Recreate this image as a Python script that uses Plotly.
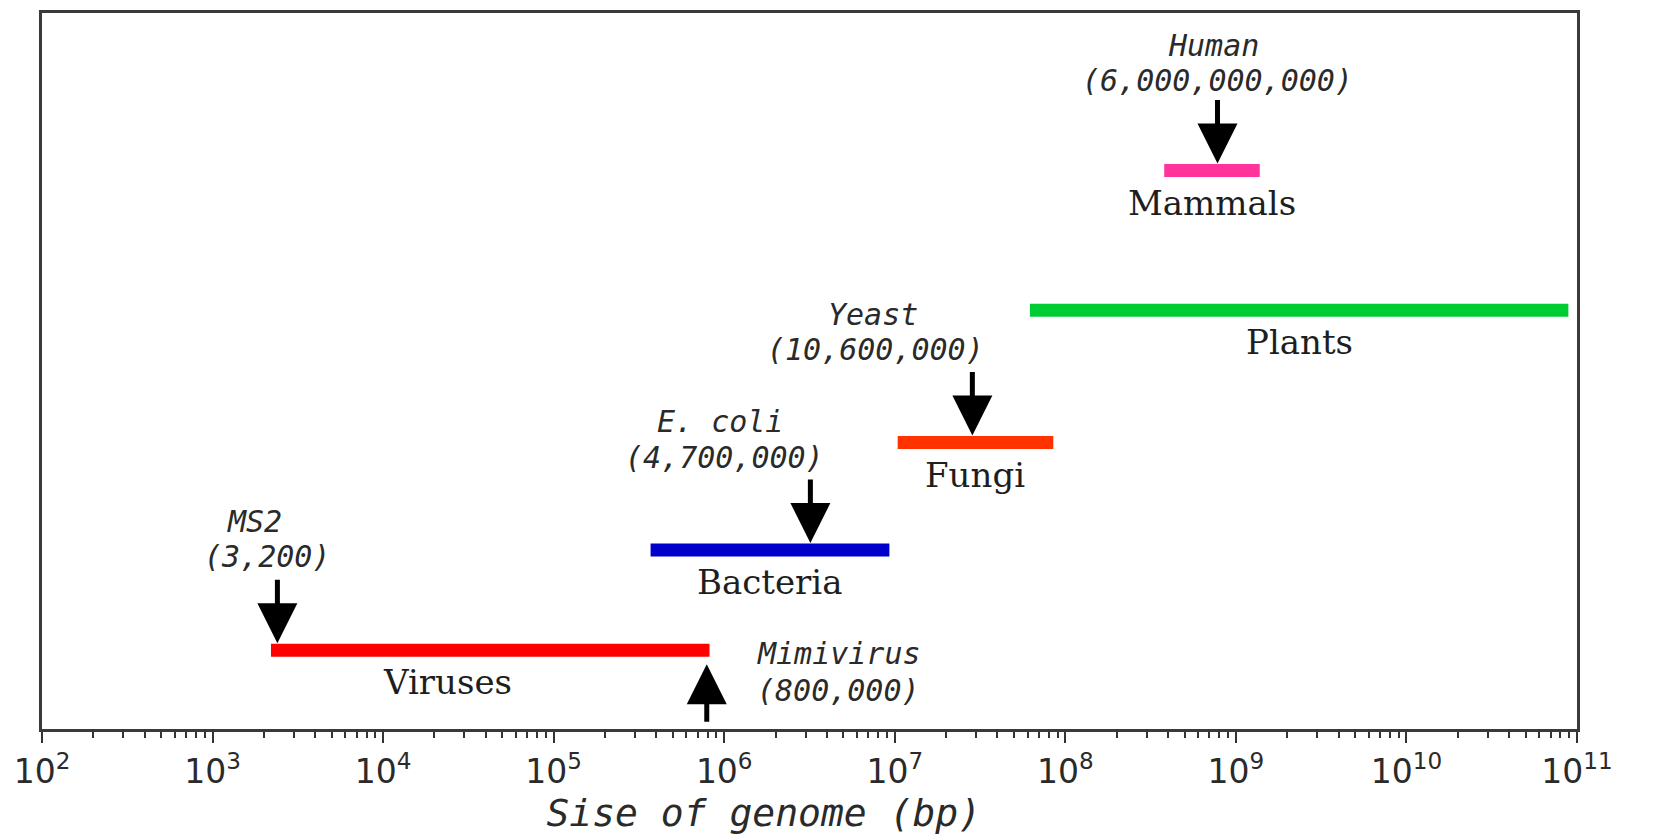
import numpy as np
import plotly.graph_objects as go

# ---- data ----
groups = ["Viruses", "Bacteria", "Fungi", "Plants", "Mammals"]
group_min_bp = [2.2e3, 3.7e5, 1.04e7, 6.2e7, 3.8e8]
group_max_bp = [8.2e5, 9.3e6, 8.5e7, 8.9e10, 1.38e9]
group_row = [11, 25, 40, 58.5, 78]
group_colors = ["#FF0000", "#0000CC", "#FF3300", "#00CC33", "#FF3399"]

organisms = ["MS2", "Mimivirus", "E. coli", "Yeast", "Human"]
organism_size_text = ["(3,200)", "(800,000)", "(4,700,000)", "(10,600,000)", "(6,000,000,000)"]
organism_marker_bp = [2.4e3, 7.9e5, 3.2e6, 2.85e7, 7.8e8]
organism_group = ["Viruses", "Viruses", "Bacteria", "Fungi", "Mammals"]

tick_exponents = list(range(2, 12))
x_title = "Sise of genome (bp)"

# ---- styling ----
TEXT = "#1e1e1e"
LABEL_FONT = dict(family="DejaVu Serif", size=34, color=TEXT)
ITAL_FONT = dict(family="DejaVu Sans Mono", size=30, color="#2a2a2a")
# pixel offsets for callout text (name line, value line) relative to arrow point
callout_style = {
    "MS2":       dict(up=False, name=(-23, 129), value=(-10, 94)),
    "Mimivirus": dict(up=True,  name=(132, -3),  value=(132, -40)),
    "E. coli":   dict(up=False, name=(-90, 129), value=(-86, 93)),
    "Yeast":     dict(up=False, name=(-99, 128), value=(-97, 93)),
    "Human":     dict(up=False, name=(-4, 125),  value=(0, 90)),
}
label_xshift = {"Viruses": -43}

fig = go.Figure()

row_of = dict(zip(groups, group_row))
for g, lo, hi, r, c in zip(groups, group_min_bp, group_max_bp, group_row, group_colors):
    fig.add_trace(go.Scatter(x=[lo, hi], y=[r, r], mode="lines",
                             line=dict(color=c, width=13), showlegend=False,
                             hoverinfo="skip"))
    center = (np.log10(lo) + np.log10(hi)) / 2
    fig.add_annotation(x=center, y=r, xref="x", yref="y", text=g, showarrow=False,
                       font=LABEL_FONT, yshift=-32, xshift=label_xshift.get(g, 0))

for name, val, bp, grp in zip(organisms, organism_size_text, organism_marker_bp, organism_group):
    st = callout_style[name]
    r = row_of[grp]
    lx = np.log10(bp)
    if st["up"]:
        fig.add_annotation(x=lx, y=r, xref="x", yref="y", text="", showarrow=True,
                           ax=0, ay=73, arrowhead=2, arrowsize=1.6, arrowwidth=5,
                           arrowcolor="#000000", standoff=14)
    else:
        fig.add_annotation(x=lx, y=r, xref="x", yref="y", text="", showarrow=True,
                           ax=0, ay=-72, arrowhead=2, arrowsize=1.6, arrowwidth=5,
                           arrowcolor="#000000", standoff=7)
    fig.add_annotation(x=lx, y=r, xref="x", yref="y", text="<i>%s</i>" % name,
                       showarrow=False, font=ITAL_FONT,
                       xshift=st["name"][0], yshift=st["name"][1])
    fig.add_annotation(x=lx, y=r, xref="x", yref="y", text="<i>%s</i>" % val,
                       showarrow=False, font=ITAL_FONT,
                       xshift=st["value"][0], yshift=st["value"][1])

minor_vals = [k * 10.0 ** e for e in tick_exponents[:-1] for k in range(2, 10)]

fig.update_xaxes(
    type="log", range=[tick_exponents[0], tick_exponents[-1]],
    tickvals=[10.0 ** e for e in tick_exponents],
    ticktext=["10<sup>%d</sup>" % e for e in tick_exponents],
    ticks="outside", ticklen=11, tickwidth=2, tickcolor="#333",
    minor=dict(tickvals=minor_vals, ticks="outside", ticklen=6, tickwidth=2, tickcolor="#333"),
    showline=True, linewidth=3, linecolor="#3a3a3a", mirror=True,
    showgrid=False, zeroline=False,
    tickfont=dict(family="DejaVu Sans", size=33, color="#2a2a2a"),
    title=dict(text="<i>%s</i>" % x_title + "&nbsp;" * 4,
               font=dict(family="DejaVu Sans Mono", size=38, color="#2a2a2a"),
               standoff=8),
)
fig.update_yaxes(range=[0, 100], showticklabels=False, ticks="", showgrid=False,
                 zeroline=False, showline=True, linewidth=3, linecolor="#3a3a3a",
                 mirror=True)

fig.update_layout(width=1648, height=831, margin=dict(l=34, r=79, t=2, b=110),
                  plot_bgcolor="white", paper_bgcolor="white", showlegend=False)

fig.write_html("out.html")
